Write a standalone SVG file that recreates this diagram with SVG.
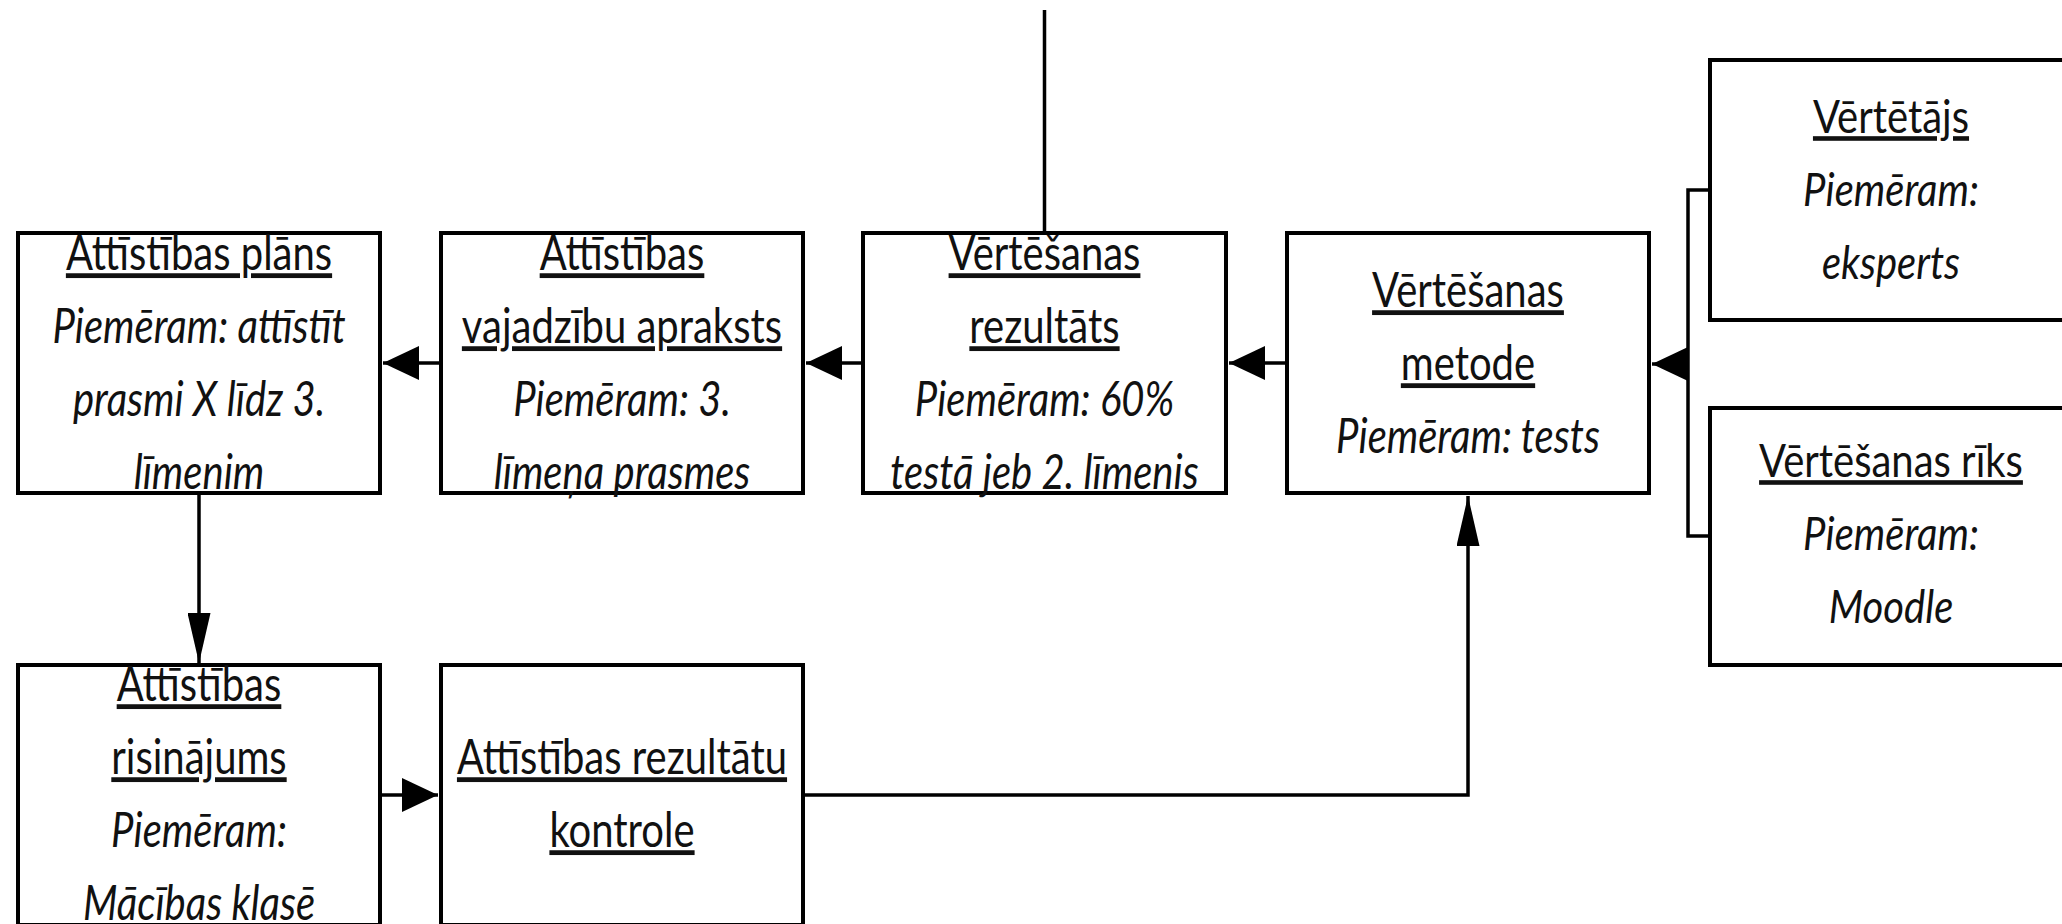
<svg xmlns="http://www.w3.org/2000/svg" width="2062" height="924" viewBox="0 0 2062 924">
<style>
.box{fill:#fff;stroke:#000;stroke-width:4}
.t{font-family:Lato,"Liberation Sans",sans-serif;font-size:40px;fill:#111;text-anchor:middle}
.h{text-decoration:underline}
.i{font-style:italic}
.c{fill:none;stroke:#000;stroke-width:3.5}
</style>
<defs>
<marker id="ah" markerUnits="userSpaceOnUse" markerWidth="36" markerHeight="34" refX="36" refY="17" orient="auto"><path d="M0,0 L36,17 L0,34 z" fill="#000"/></marker>
<marker id="av" markerUnits="userSpaceOnUse" markerWidth="50" markerHeight="23" refX="50" refY="11.5" orient="auto"><path d="M0,0 L50,11.5 L0,23 z" fill="#000"/></marker>
</defs>
<rect width="2062" height="924" fill="#fff"/>
<g id="connectors">
<path class="c" d="M1044.5,10 V233"/>
<path class="c" d="M441,363 L383,363" marker-end="url(#ah)"/>
<path class="c" d="M863,363 L806,363" marker-end="url(#ah)"/>
<path class="c" d="M1287,363 L1229,363" marker-end="url(#ah)"/>
<path class="c" d="M1710,190 H1688 V536 H1710"/>
<path class="c" d="M1688,364 L1652,364" marker-end="url(#ah)"/>
<path class="c" d="M199,493 V663" marker-end="url(#av)"/>
<path class="c" d="M380,795 L438,795" marker-end="url(#ah)"/>
<path class="c" d="M803,795 H1468 V496" marker-end="url(#av)"/>
</g>
<g id="n1">
<rect class="box" x="18" y="233" width="362" height="260"/>
<text class="t h" x="199" y="270" transform="matrix(1 0 0 1.2 0 -54)">Attīstības plāns</text>
<text class="t i" x="199" y="343" transform="matrix(1 0 0 1.2 0 -68.6)">Piemēram: attīstīt</text>
<text class="t i" x="199" y="416" transform="matrix(1 0 0 1.2 0 -83.2)">prasmi X līdz 3.</text>
<text class="t i" x="199" y="489" transform="matrix(1 0 0 1.2 0 -97.8)">līmenim</text>
</g>
<g id="n2">
<rect class="box" x="441" y="233" width="362" height="260"/>
<text class="t h" x="622" y="270" transform="matrix(1 0 0 1.2 0 -54)">Attīstības</text>
<text class="t h" x="622" y="343" transform="matrix(1 0 0 1.2 0 -68.6)">vajadzību apraksts</text>
<text class="t i" x="622" y="416" transform="matrix(1 0 0 1.2 0 -83.2)">Piemēram: 3.</text>
<text class="t i" x="622" y="489" transform="matrix(1 0 0 1.2 0 -97.8)">līmeņa prasmes</text>
</g>
<g id="n3">
<rect class="box" x="863" y="233" width="363" height="260"/>
<text class="t h" x="1044.5" y="270" transform="matrix(1 0 0 1.2 0 -54)">Vērtēšanas</text>
<text class="t h" x="1044.5" y="343" transform="matrix(1 0 0 1.2 0 -68.6)">rezultāts</text>
<text class="t i" x="1044.5" y="416" transform="matrix(1 0 0 1.2 0 -83.2)">Piemēram: 60%</text>
<text class="t i" x="1044.5" y="489" transform="matrix(1 0 0 1.2 0 -97.8)">testā jeb 2. līmenis</text>
</g>
<g id="n4">
<rect class="box" x="1287" y="233" width="362" height="260"/>
<text class="t h" x="1468" y="307" transform="matrix(1 0 0 1.2 0 -61.4)">Vērtēšanas</text>
<text class="t h" x="1468" y="380" transform="matrix(1 0 0 1.2 0 -76)">metode</text>
<text class="t i" x="1468" y="453" transform="matrix(1 0 0 1.2 0 -90.6)">Piemēram: tests</text>
</g>
<g id="n5">
<rect class="box" x="1710" y="60" width="362" height="260"/>
<text class="t h" x="1891" y="133" transform="matrix(1 0 0 1.15 0 -19.95)">Vērtētājs</text>
<text class="t i" x="1891" y="206" transform="matrix(1 0 0 1.15 0 -30.9)">Piemēram:</text>
<text class="t i" x="1891" y="279" transform="matrix(1 0 0 1.15 0 -41.85)">eksperts</text>
</g>
<g id="n6">
<rect class="box" x="1710" y="408" width="362" height="257"/>
<text class="t h" x="1891" y="477" transform="matrix(1 0 0 1.15 0 -71.55)">Vērtēšanas rīks</text>
<text class="t i" x="1891" y="550" transform="matrix(1 0 0 1.15 0 -82.5)">Piemēram:</text>
<text class="t i" x="1891" y="623" transform="matrix(1 0 0 1.15 0 -93.45)">Moodle</text>
</g>
<g id="n7">
<rect class="box" x="18" y="665" width="362" height="260"/>
<text class="t h" x="199" y="701" transform="matrix(1 0 0 1.2 0 -140.2)">Attīstības</text>
<text class="t h" x="199" y="774" transform="matrix(1 0 0 1.2 0 -154.8)">risinājums</text>
<text class="t i" x="199" y="847" transform="matrix(1 0 0 1.2 0 -169.4)">Piemēram:</text>
<text class="t i" x="199" y="920" transform="matrix(1 0 0 1.2 0 -184)">Mācības klasē</text>
</g>
<g id="n8">
<rect class="box" x="441" y="665" width="362" height="260"/>
<text class="t h" x="622" y="774" transform="matrix(1 0 0 1.2 0 -154.8)">Attīstības rezultātu</text>
<text class="t h" x="622" y="847" transform="matrix(1 0 0 1.2 0 -169.4)">kontrole</text>
</g>
</svg>
